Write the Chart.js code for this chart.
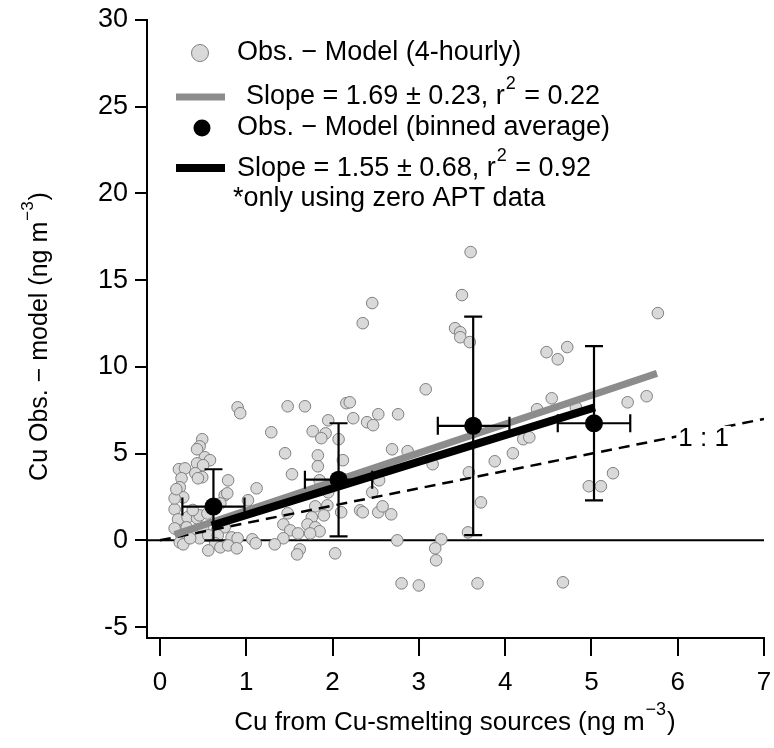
<!DOCTYPE html>
<html><head><meta charset="utf-8">
<script src="https://cdn.jsdelivr.net/npm/chart.js@4/dist/chart.umd.min.js"></script>
<style>html,body{margin:0;padding:0;background:#fff}#wrap{width:774px;height:748px}</style>
</head><body><div id="wrap"><canvas id="c" width="774" height="748"></canvas></div>
<script>
// ---- data ----
const obsX = [0.49,0.46,0.43,0.52,0.58,0.43,0.50,0.22,0.29,0.41,0.49,0.44,0.25,0.23,0.27,0.79,1.12,0.17,0.75,0.70,1.02,0.21,0.32,0.43,0.46,0.21,0.31,0.50,0.66,0.75,0.83,0.90,0.23,0.27,0.37,0.46,0.56,0.67,0.64,0.70,0.79,0.89,0.56,1.07,1.11,0.17,0.90,0.93,1.29,0.17,0.78,0.35,0.38,0.55,0.19,
1.48,1.68,2.16,2.24,1.95,1.77,1.92,1.87,2.07,1.45,1.83,1.83,2.12,1.53,1.85,1.95,1.80,1.94,2.10,1.48,1.76,1.90,1.43,1.71,1.80,1.85,1.74,1.51,1.60,1.43,1.33,2.03,1.62,1.59,2.46,2.35,2.20,2.53,2.40,2.47,2.76,2.69,2.87,2.54,2.46,2.32,2.35,2.53,2.58,2.68,2.75,2.80,3.00,
3.08,3.16,3.26,3.19,3.20,3.42,3.48,3.48,3.59,3.50,3.60,3.58,3.72,3.57,3.68,3.88,4.09,4.21,4.28,4.37,4.54,4.48,4.72,4.61,4.82,4.67,4.97,5.11,5.25,5.42,5.64,5.77];
const obsY = [5.83,5.42,5.25,4.79,4.62,4.44,4.33,4.10,4.15,3.87,3.64,3.58,3.58,3.06,2.48,3.46,3.00,1.79,2.60,2.13,2.31,1.21,1.33,1.27,1.44,0.58,0.75,0.69,0.58,0.75,0.17,0.12,-0.12,-0.23,0.23,0.12,0.29,0.29,-0.17,-0.40,-0.29,-0.46,-0.58,0.06,-0.17,2.42,7.67,7.33,6.23,0.69,2.71,0.12,1.75,1.55,2.95,
7.73,7.73,7.91,7.04,6.92,6.29,6.17,5.89,5.83,5.02,4.90,4.27,4.62,3.81,3.46,2.77,1.96,2.02,1.62,1.56,1.33,1.44,0.92,0.92,0.75,0.52,0.40,0.58,0.40,0.12,-0.23,-0.75,-0.52,-0.81,13.68,12.52,7.96,7.27,6.81,6.64,7.27,5.25,5.14,3.46,2.77,1.73,1.62,1.62,1.96,1.50,0.00,-2.48,-2.60,
8.71,4.39,0.06,-0.46,-1.15,12.23,12.00,11.71,11.43,14.14,16.62,3.92,2.19,0.46,-2.48,4.56,5.02,5.83,5.94,7.56,8.19,10.85,11.14,10.44,7.67,-2.42,3.12,3.12,3.87,7.96,8.31,13.10];

const binX     = [0.62, 2.07, 3.63, 5.03];
const binY     = [1.95, 3.50, 6.60, 6.75];
const binXLow  = [0.26, 1.68, 3.22, 4.61];
const binXHigh = [0.98, 2.46, 4.05, 5.45];
const binYLow  = [0.00, 0.23, 0.30, 2.30];
const binYHigh = [4.10, 6.75, 12.90, 11.20];

const fitAllX = [0.17, 5.76], fitAllY = [0.33, 9.63];   // slope 1.69 fit (4-hourly)
const fitBinX = [0.60, 5.04], fitBinY = [0.85, 7.67];   // slope 1.55 fit (binned)
const oneX = [0, 7], oneY = [0, 7];                      // 1:1 line
const zeroX = [-0.15, 7], zeroY = [0, 0];                // zero reference line

const xTicks = [0,1,2,3,4,5,6,7];
const yTicks = [-5,0,5,10,15,20,25,30];

const legendText = [
  "Obs. \u2212 Model (4-hourly)",
  ["Slope = 1.69 \u00b1 0.23, r", "2", " = 0.22"],
  "Obs. \u2212 Model (binned average)",
  ["Slope = 1.55 \u00b1 0.68, r", "2", " = 0.92"],
  "*only using zero APT data"
];
const xTitle = ["Cu from Cu-smelting sources (ng m", "\u22123", ")"];
const yTitle = ["Cu Obs. \u2212 model (ng m", "\u22123", ")"];
const oneLabel = "1 : 1";

// ---- chart ----
const FAM = '"Liberation Sans", Arial, Helvetica, sans-serif';
const GRAY = '#8c8c8c';
const pts = (xs, ys) => xs.map((x, i) => ({x, y: ys[i]}));

function drawSup(ctx, parts, x, y, size, supSize, raise) {
  ctx.font = size + 'px ' + FAM;
  ctx.fillText(parts[0], x, y);
  x += ctx.measureText(parts[0]).width;
  ctx.font = supSize + 'px ' + FAM;
  ctx.fillText(parts[1], x + 1, y - raise);
  x += ctx.measureText(parts[1]).width + 2;
  ctx.font = size + 'px ' + FAM;
  ctx.fillText(parts[2], x, y);
}
function supWidth(ctx, parts, size, supSize) {
  ctx.font = size + 'px ' + FAM;
  let w = ctx.measureText(parts[0]).width + ctx.measureText(parts[2]).width;
  ctx.font = supSize + 'px ' + FAM;
  return w + ctx.measureText(parts[1]).width + 3;
}

const extras = {
  id: 'extras',
  beforeDatasetDraw(chart, args) {
    if (args.index !== 5) return;
    const ctx = chart.ctx, xs = chart.scales.x, ys = chart.scales.y;
    ctx.save();
    ctx.strokeStyle = '#000'; ctx.lineWidth = 2.2;
    const cap = 9;
    binX.forEach((bx, i) => {
      const px = xs.getPixelForValue(bx), py = ys.getPixelForValue(binY[i]);
      const y1 = ys.getPixelForValue(binYLow[i]), y2 = ys.getPixelForValue(binYHigh[i]);
      const x1 = xs.getPixelForValue(binXLow[i]), x2 = xs.getPixelForValue(binXHigh[i]);
      ctx.beginPath();
      ctx.moveTo(px, y1); ctx.lineTo(px, y2);
      ctx.moveTo(px - cap, y1); ctx.lineTo(px + cap, y1);
      ctx.moveTo(px - cap, y2); ctx.lineTo(px + cap, y2);
      ctx.moveTo(x1, py); ctx.lineTo(x2, py);
      ctx.moveTo(x1, py - cap); ctx.lineTo(x1, py + cap);
      ctx.moveTo(x2, py - cap); ctx.lineTo(x2, py + cap);
      ctx.stroke();
    });
    ctx.restore();
  },
  afterDraw(chart) {
    const ctx = chart.ctx, xs = chart.scales.x, ys = chart.scales.y;
    ctx.save();
    ctx.fillStyle = '#000';
    ctx.textBaseline = 'middle';
    ctx.textAlign = 'left';
    // 1:1 label
    ctx.font = '26px ' + FAM;
    const lx = xs.getPixelForValue(6.3), ly = ys.getPixelForValue(5.85);
    const lw = ctx.measureText(oneLabel).width;
    ctx.fillStyle = '#fff';
    ctx.fillRect(lx - lw / 2 - 2, ly - 13, lw + 4, 26);
    ctx.fillStyle = '#000';
    ctx.fillText(oneLabel, lx - lw / 2, ly);
    // legend
    ctx.beginPath(); ctx.arc(200, 53, 8.5, 0, Math.PI * 2);
    ctx.fillStyle = '#d9d9d9'; ctx.fill();
    ctx.strokeStyle = '#7f7f7f'; ctx.lineWidth = 1; ctx.stroke();
    ctx.fillStyle = '#000';
    ctx.font = '27px ' + FAM;
    ctx.fillText(legendText[0], 237, 53);
    ctx.strokeStyle = GRAY; ctx.lineWidth = 7;
    ctx.beginPath(); ctx.moveTo(176, 97); ctx.lineTo(225, 97); ctx.stroke();
    drawSup(ctx, legendText[1], 246, 97, 27, 18, 13);
    ctx.beginPath(); ctx.arc(202, 128, 8.5, 0, Math.PI * 2); ctx.fill();
    ctx.font = '27px ' + FAM;
    ctx.fillText(legendText[2], 237, 128);
    ctx.strokeStyle = '#000'; ctx.lineWidth = 8;
    ctx.beginPath(); ctx.moveTo(176, 168); ctx.lineTo(225, 168); ctx.stroke();
    drawSup(ctx, legendText[3], 237, 169, 27, 18, 13);
    ctx.font = '27px ' + FAM;
    ctx.fillText(legendText[4], 233, 199);
    // x title
    const xw = supWidth(ctx, xTitle, 26, 18);
    drawSup(ctx, xTitle, (chart.chartArea.left + chart.chartArea.right) / 2 - xw / 2, 723, 26, 18, 13);
    // y title
    const yw = supWidth(ctx, yTitle, 25, 17);
    ctx.translate(40, 336); ctx.rotate(-Math.PI / 2);
    drawSup(ctx, yTitle, -yw / 2, 0, 25, 17, 12);
    ctx.restore();
  }
};

new Chart(document.getElementById('c'), {
  type: 'scatter',
  data: {
    datasets: [
      {data: pts(zeroX, zeroY), showLine: true, borderColor: '#000', borderWidth: 2, pointRadius: 0, order: 10},
      {data: pts(obsX, obsY), pointRadius: 5.8, backgroundColor: '#d9d9d9', borderColor: '#7f7f7f', borderWidth: 1, order: 9},
      {data: pts(oneX, oneY), showLine: true, borderColor: '#000', borderWidth: 2.5, borderDash: [11, 7], pointRadius: 0, order: 8},
      {data: pts(fitAllX, fitAllY), showLine: true, borderColor: GRAY, borderWidth: 7, pointRadius: 0, order: 7},
      {data: pts(fitBinX, fitBinY), showLine: true, borderColor: '#000', borderWidth: 8, pointRadius: 0, order: 6},
      {data: pts(binX, binY), pointRadius: 9, backgroundColor: '#000', borderColor: '#000', borderWidth: 0, order: 5}
    ]
  },
  options: {
    responsive: false, animation: false, devicePixelRatio: 1,
    layout: {padding: {top: 20, right: 10, left: 0, bottom: 0}},
    plugins: {legend: {display: false}, tooltip: {enabled: false}},
    scales: {
      x: {
        type: 'linear', position: 'bottom', min: -0.15, max: 7,
        afterBuildTicks: s => { s.ticks = xTicks.map(v => ({value: v})); },
        afterFit: s => { s.height = 110; s.paddingRight = 0; s.paddingLeft = 0; },
        ticks: {font: {family: FAM, size: 26}, color: '#000', padding: 11, autoSkip: false, maxRotation: 0},
        grid: {drawOnChartArea: false, drawTicks: true, tickLength: 18, color: '#000', lineWidth: 2},
        border: {display: true, color: '#000', width: 2}
      },
      y: {
        type: 'linear', position: 'left', min: -5.63, max: 30,
        afterBuildTicks: s => { s.ticks = yTicks.map(v => ({value: v})); },
        afterFit: s => { s.width = 147; s.paddingTop = 0; s.paddingBottom = 0; },
        ticks: {font: {family: FAM, size: 27}, color: '#000', padding: 7, autoSkip: false},
        grid: {drawOnChartArea: false, drawTicks: true, tickLength: 12, color: '#000', lineWidth: 2},
        border: {display: true, color: '#000', width: 2}
      }
    }
  },
  plugins: [extras]
});
</script></body></html>
